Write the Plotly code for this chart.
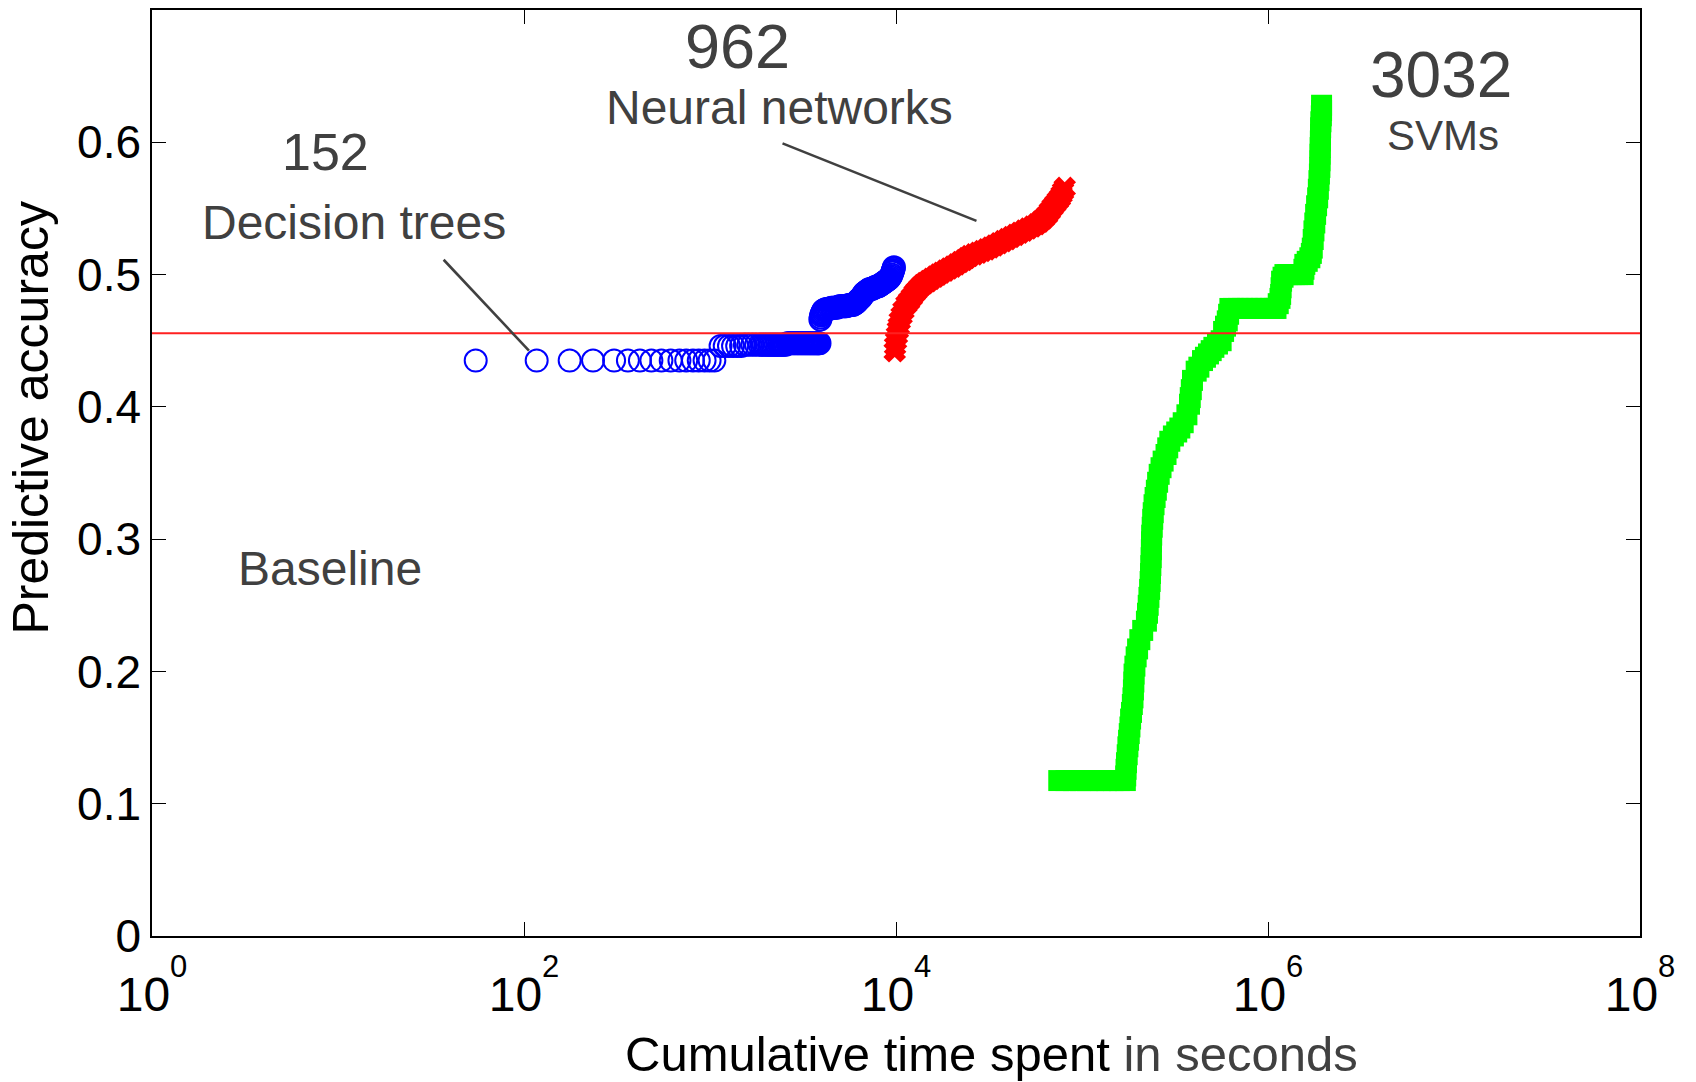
import numpy as np
import plotly.graph_objects as go

# ---------------- data ----------------
categories = ["Decision trees", "Neural networks", "SVMs"]
model_counts = [152, 962, 3032]
baseline_acc = 0.4557

# Decision trees: cumulative time (s) and predictive accuracy
tree_time = [55, 117, 176, 235, 305, 362, 420, 484, 548, 615, 685, 745, 810, 870, 935, 995, 1055,
             1140, 1200, 1265, 1330, 1400, 1470, 1540, 1610, 1690, 1770,
             1850, 1895, 1940, 1985, 2030, 2075, 2120, 2165,
             2210, 2255, 2300, 2350, 2400, 2450, 2500, 2550, 2600, 2650, 2700, 2750, 2800, 2850,
             2900, 2950, 3000, 3050, 3100, 3150, 3200, 3250, 3300, 3350, 3400, 3450, 3500, 3550,
             3600, 3650, 3700, 3750, 3800, 3840, 3880,
             3920, 3940, 3960, 3985, 4010, 4045, 4080, 4140, 4200, 4275, 4350, 4425, 4500, 4575,
             4650, 4725, 4800, 4875, 4950, 5025, 5100, 5175, 5250, 5325, 5400, 5475, 5550, 5625,
             5700, 5775, 5850, 5925, 6000, 6075, 6150, 6225, 6300, 6375, 6450, 6525, 6600, 6675,
             6750, 6825, 6900, 6975, 7050, 7125, 7200, 7300, 7400, 7500, 7600, 7700, 7800, 7900,
             8000, 8100, 8200, 8300, 8400, 8500, 8600, 8700, 8800, 8900, 9000, 9100, 9200, 9300,
             9400, 9480, 9550, 9600, 9650, 9700, 9750]
tree_acc = [0.435] * 17 + \
           [0.446] * 6 + [0.447] * 20 + [0.448] * 27 + \
           [0.466, 0.4675, 0.469, 0.470, 0.471, 0.472, 0.473, 0.4735, 0.474, 0.474, 0.474, 0.4745,
            0.475, 0.475, 0.475, 0.475, 0.475, 0.4755, 0.476, 0.476, 0.476, 0.476, 0.476, 0.476,
            0.476, 0.4765, 0.477, 0.477, 0.477, 0.477, 0.477, 0.4775, 0.478, 0.4785, 0.479, 0.480,
            0.481, 0.4815, 0.482, 0.483, 0.484, 0.485, 0.486, 0.4865, 0.487, 0.4875, 0.488, 0.4885,
            0.489, 0.489, 0.489, 0.4895, 0.490, 0.4905, 0.491, 0.491, 0.491, 0.4915, 0.492, 0.4925,
            0.493, 0.4935, 0.494, 0.4945, 0.495, 0.4955, 0.496, 0.4965, 0.497, 0.498, 0.499, 0.500,
            0.5015, 0.5025, 0.5035, 0.5045, 0.5055]

# Neural networks
nn_time = [9840, 9886, 10000, 10116, 10233, 10351, 10471, 10715, 10965, 11376, 11749, 12162, 12589,
           12882, 13335, 13804, 14289, 14859, 15488, 16218, 16866, 17539, 18408, 19275, 20184, 21135,
           22131, 23174, 23988, 24946, 26303, 27669, 29107, 30620, 32211, 33884, 35727, 37670, 39628,
           41687, 43954, 46238, 48753, 51286, 54075, 56885, 59566, 62373, 64863, 67143, 69502, 71779,
           74131, 76033, 77625, 79068, 80724]
nn_acc = [0.442, 0.446, 0.450, 0.454, 0.458, 0.461, 0.465, 0.469, 0.473, 0.4775, 0.480, 0.483, 0.486,
          0.4876, 0.490, 0.492, 0.4935, 0.495, 0.4967, 0.4985, 0.500, 0.5014, 0.503, 0.5046, 0.506,
          0.5077, 0.5095, 0.511, 0.5125, 0.514, 0.5153, 0.5165, 0.5178, 0.519, 0.5205, 0.522, 0.5237,
          0.5253, 0.5268, 0.5284, 0.530, 0.5316, 0.5332, 0.5348, 0.5363, 0.538, 0.540, 0.5425, 0.545,
          0.548, 0.551, 0.5535, 0.556, 0.558, 0.5605, 0.563, 0.5656]

# SVMs
svm_time = [75000, 82000, 90000, 98000, 107000, 116000, 126000, 136000, 147000, 159000, 171000,
            171800, 172500, 173500, 175000, 176500, 178000, 179500, 181000, 182500, 184500, 186500,
            188000, 189000, 190000, 190500, 192500, 195500, 199000, 204600, 212000, 222000, 225000,
            227000, 229000, 231000, 232500, 233500, 234500, 235500, 236000, 236500, 237000, 238500,
            240000, 241500, 244000, 247200, 251000, 255000, 260000, 266000, 273000, 283000, 289000,
            296500, 310000, 323000, 335700, 350000, 366400, 378400, 382000, 387000, 392600, 411000,
            425000, 444600, 461000, 478600, 495000, 511700, 535000, 559800, 577000, 591000, 604000,
            614000, 623700,
            650000, 690000, 730000, 775000, 820000, 870000, 920000, 975000, 1030000, 1080000, 1104000,
            1135000, 1160000, 1169500, 1176000, 1183000, 1205000, 1233100,
            1280000, 1330000, 1385000, 1440000, 1490000, 1545000,
            1560000, 1577600, 1625000, 1678800, 1710000, 1729800, 1750000, 1766000, 1785000, 1803000,
            1825000, 1849300, 1865000, 1879300, 1890000, 1901100, 1903000, 1905000, 1908000, 1912000,
            1915000, 1918700, 1925000, 1935000, 1940900, 1940900]
svm_acc = [0.1175] * 11 + \
          [0.121, 0.126, 0.131, 0.137, 0.143, 0.148, 0.153, 0.158, 0.164, 0.169, 0.175, 0.180, 0.186,
           0.192, 0.198, 0.204, 0.211, 0.217, 0.224, 0.231, 0.238, 0.244, 0.250, 0.256, 0.262, 0.268,
           0.274, 0.280, 0.286, 0.292, 0.298, 0.303, 0.309, 0.315, 0.320, 0.326, 0.3315, 0.337, 0.343,
           0.349, 0.354, 0.359, 0.364, 0.369, 0.374, 0.378, 0.381, 0.384, 0.388, 0.394, 0.402, 0.407,
           0.413, 0.420, 0.427, 0.430, 0.435, 0.4375, 0.440, 0.4425, 0.445, 0.4475, 0.450, 0.457,
           0.461, 0.465, 0.470, 0.4744] + \
          [0.4744] * 11 + \
          [0.478, 0.482, 0.485, 0.490, 0.495, 0.498, 0.500] + \
          [0.500] * 6 + \
          [0.504, 0.5077, 0.510, 0.5127, 0.516, 0.520, 0.5265, 0.533, 0.539, 0.5455, 0.552, 0.558,
           0.5645, 0.571, 0.576, 0.581, 0.586, 0.591, 0.596, 0.601, 0.606, 0.611, 0.6155, 0.620,
           0.624, 0.628]

assert len(tree_time) == len(tree_acc), (len(tree_time), len(tree_acc))
assert len(nn_time) == len(nn_acc)
assert len(svm_time) == len(svm_acc)

x_tick_vals = [1, 1e2, 1e4, 1e6, 1e8]
x_tick_exp = ["0", "2", "4", "6", "8"]
y_tick_vals = [0, 0.1, 0.2, 0.3, 0.4, 0.5, 0.6]
y_tick_text = ["0", "0.1", "0.2", "0.3", "0.4", "0.5", "0.6"]

# ---------------- figure ----------------
FONT = "Liberation Sans, Arial, Helvetica, sans-serif"
GREY = "#404040"

fig = go.Figure()
fig.add_trace(go.Scatter(
    x=tree_time, y=tree_acc, mode="markers", name=categories[0],
    marker=dict(symbol="circle-open", size=22, color="#0000ff",
                line=dict(width=2, color="#0000ff"))))
fig.add_trace(go.Scatter(
    x=nn_time, y=nn_acc, mode="markers", name=categories[1],
    marker=dict(symbol="x", size=20, color="#ff0000", line=dict(width=0))))
fig.add_trace(go.Scatter(
    x=svm_time, y=svm_acc, mode="markers", name=categories[2],
    marker=dict(symbol="square", size=21, color="#00ff00", line=dict(width=0))))
fig.add_trace(go.Scatter(
    x=[1, 1e8], y=[baseline_acc, baseline_acc], mode="lines", name="Baseline",
    line=dict(color="#ff2020", width=2)))

# leader lines (data coordinates)
fig.add_trace(go.Scatter(x=[36.97, 106.3], y=[0.5112, 0.4425], mode="lines",
                         line=dict(color=GREY, width=2.6)))
fig.add_trace(go.Scatter(x=[2454, 27080], y=[0.5992, 0.5406], mode="lines",
                         line=dict(color=GREY, width=2.6)))

def lab(text, logx, y, size):
    fig.add_annotation(x=logx, y=y, xref="x", yref="y", text=text, showarrow=False,
                       xanchor="center", yanchor="middle",
                       font=dict(family=FONT, size=size, color=GREY))

lab(str(model_counts[0]), 0.9331, 0.5927, 52)
lab(categories[0], 1.0885, 0.5391, 48)
lab(str(model_counts[1]), 3.1467, 0.6728, 63)
lab(categories[1], 3.3758, 0.6261, 48)
lab(str(model_counts[2]), 6.9324, 0.6512, 64)
lab(categories[2], 6.9404, 0.6052, 42)
lab("Baseline", 0.9573, 0.2779, 48)

# axis titles
fig.add_annotation(xref="paper", yref="paper", x=0.5644, y=-0.1276, showarrow=False,
                   xanchor="center", yanchor="middle",
                   text="Cumulative time spent <span style='color:#404040'>in seconds</span>",
                   font=dict(family=FONT, size=49, color="black"))
fig.add_annotation(xref="paper", yref="paper", x=-0.0812, y=0.56, showarrow=False,
                   xanchor="center", yanchor="middle", textangle=-90,
                   text="Predictive accuracy",
                   font=dict(family=FONT, size=50, color="black"))

axis_common = dict(showgrid=False, zeroline=False, showline=True, linecolor="black",
                   linewidth=1.5, mirror="ticks", ticks="inside", ticklen=14, tickwidth=1.2,
                   tickcolor="black")
fig.update_xaxes(type="log", range=[0, 8], tickmode="array", tickvals=x_tick_vals,
                 ticktext=["10<sup><sup><span style='font-size:31px'>%s</span></sup></sup>" % e
                           for e in x_tick_exp],
                 tickfont=dict(family=FONT, size=48, color="black"),
                 ticklabelstandoff=16, **axis_common)
fig.update_yaxes(range=[0, 0.7], tickmode="array", tickvals=y_tick_vals, ticktext=y_tick_text,
                 tickfont=dict(family=FONT, size=46, color="black"), **axis_common)

fig.update_layout(width=1696, height=1082, showlegend=False,
                  margin=dict(l=152, r=56, t=8, b=146, pad=0),
                  plot_bgcolor="white", paper_bgcolor="white",
                  font=dict(family=FONT))

fig.write_html("out.html", config={"displayModeBar": False},
               post_script="document.body.style.margin='0px';")
